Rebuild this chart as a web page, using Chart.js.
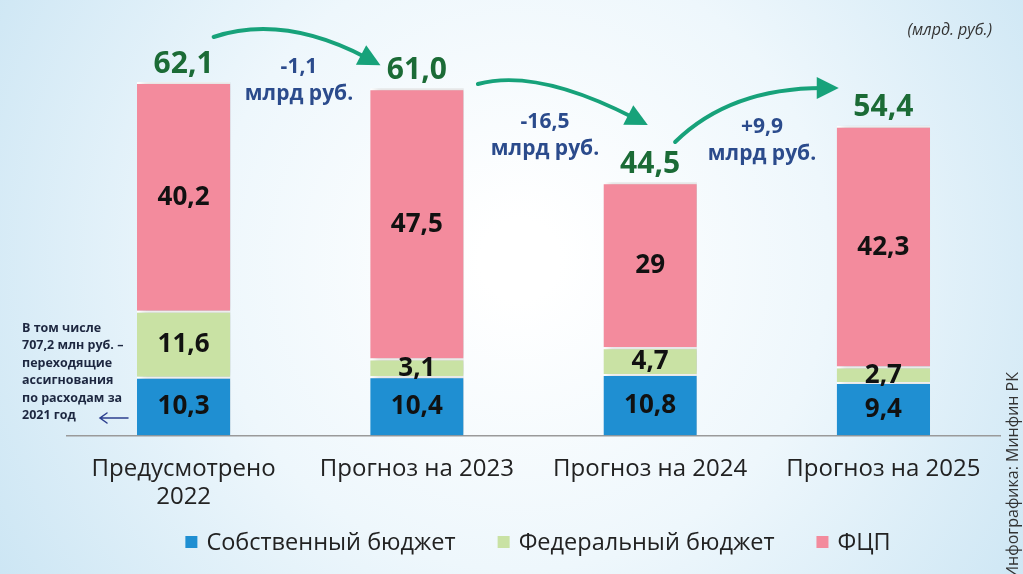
<!DOCTYPE html>
<html lang="ru">
<head>
  <meta charset="UTF-8" />
  <title>Бюджет</title>
  <script src="https://cdn.jsdelivr.net/npm/chart.js"></script>
  <style>
    * { margin: 0; padding: 0; box-sizing: border-box; }
    body { width: 1023px; height: 574px; overflow: hidden; background: #fff; }
    .wrap { position: relative; width: 1023px; height: 574px; }
  </style>
</head>
<body>
  <div class="wrap">
    <canvas id="budgetChart" width="1023" height="574"></canvas>
  </div>

  <script>
    const categories = [['Предусмотрено', '2022'], 'Прогноз на 2023', 'Прогноз на 2024', 'Прогноз на 2025'];
    const ownBudget = [10.3, 10.4, 10.8, 9.4];
    const federalBudget = [11.6, 3.1, 4.7, 2.7];
    const fcp = [40.2, 47.5, 29, 42.3];
    const changes = ['-1,1', '-16,5', '+9,9'];
    const FONT = "'Open Sans', 'Noto Sans', sans-serif";

    function fmt(v) {
      return String(v).replace('.', ',');
    }

    // background, shadows, labels, arrows, legend and notes
    const decor = {
      id: 'decor',
      beforeDraw(chart) {
        const c = chart.ctx;
        const g = c.createRadialGradient(520, 260, 40, 520, 260, 640);
        g.addColorStop(0, '#ffffff');
        g.addColorStop(0.45, '#eef7fc');
        g.addColorStop(1, '#c9e4f3');
        c.save();
        c.fillStyle = g;
        c.fillRect(0, 0, chart.width, chart.height);
        c.restore();
      },
      beforeDatasetsDraw(chart) {
        const c = chart.ctx;
        c.save();
        c.shadowColor = 'rgba(0,0,0,0.22)';
        c.shadowOffsetX = 5;
        c.shadowBlur = 6;
      },
      afterDatasetsDraw(chart) {
        const c = chart.ctx;
        c.restore();
        const y = chart.scales.y;
        const x = chart.scales.x;

        // segment values
        c.save();
        c.textAlign = 'center';
        c.textBaseline = 'middle';
        c.fillStyle = '#111';
        c.font = 'bold 26px ' + FONT;
        chart.data.datasets.forEach((ds, di) => {
          chart.getDatasetMeta(di).data.forEach((bar, i) => {
            const mid = (bar.y + bar.base) / 2;
            c.fillText(fmt(ds.data[i]), bar.x, mid + 1);
          });
        });

        // totals
        c.fillStyle = '#1b6b36';
        c.font = 'bold 30px ' + FONT;
        const centers = [];
        categories.forEach((cat, i) => {
          const total = ownBudget[i] + federalBudget[i] + fcp[i];
          const cx = x.getPixelForValue(i);
          const ty = y.getPixelForValue(total);
          centers.push(cx);
          c.fillText(total.toFixed(1).replace('.', ','), cx, ty - 18);
        });

        // arrows between bars
        const arrows = [
          [centers[0] + 30, 37, centers[0] + 100, 14, centers[1] - 50, 58],
          [centers[1] + 61, 84, centers[1] + 120, 68, centers[2] - 16, 118],
          [centers[2] + 25, 142, centers[2] + 80, 88, centers[3] - 60, 88]
        ];
        c.strokeStyle = '#17a27a';
        c.fillStyle = '#17a27a';
        c.lineWidth = 4;
        c.lineCap = 'round';
        arrows.forEach(a => {
          const [sx, sy, qx, qy, ex, ey] = a;
          c.beginPath();
          c.moveTo(sx, sy);
          c.quadraticCurveTo(qx, qy, ex, ey);
          c.stroke();
          const ang = Math.atan2(ey - qy, ex - qx);
          const len = 22, w = 11;
          const tx = ex + Math.cos(ang) * len * 0.7;
          const tyy = ey + Math.sin(ang) * len * 0.7;
          c.beginPath();
          c.moveTo(tx, tyy);
          c.lineTo(tx - Math.cos(ang) * len + Math.sin(ang) * w, tyy - Math.sin(ang) * len - Math.cos(ang) * w);
          c.lineTo(tx - Math.cos(ang) * len - Math.sin(ang) * w, tyy - Math.sin(ang) * len + Math.cos(ang) * w);
          c.closePath();
          c.fill();
        });

        // change labels
        const labelPos = [[299, 67], [545, 122], [762, 127]];
        c.fillStyle = '#2b4b8c';
        c.font = 'bold 21px ' + FONT;
        changes.forEach((t, i) => {
          const [lx, ly] = labelPos[i];
          c.fillText(t, lx, ly);
          c.fillText('млрд руб.', lx, ly + 27);
        });

        // units
        c.fillStyle = '#333';
        c.font = 'italic 16px ' + FONT;
        c.textAlign = 'right';
        c.fillText('(млрд. руб.)', 992, 30);

        // note on the left
        c.textAlign = 'left';
        c.fillStyle = '#1d2740';
        c.font = 'bold 12.5px ' + FONT;
        const note = ['В том числе', '707,2 млн руб. –', 'переходящие', 'ассигнования', 'по расходам за', '2021 год'];
        note.forEach((t, i) => c.fillText(t, 22, 328 + i * 17.5));
        c.strokeStyle = '#2c3f8f';
        c.lineWidth = 1.5;
        c.beginPath();
        c.moveTo(128, 418);
        c.lineTo(100, 418);
        c.moveTo(107, 413);
        c.lineTo(100, 418);
        c.lineTo(107, 423);
        c.stroke();

        // legend
        c.font = '23.5px ' + FONT;
        c.fillStyle = '#222';
        const items = chart.data.datasets.map(ds => ({ text: ds.label, color: ds.backgroundColor }));
        const box = 12, gapBox = 9, gapItem = 42, ly = 542;
        const widths = items.map(it => box + gapBox + c.measureText(it.text).width);
        const total = widths.reduce((s, w) => s + w, 0) + gapItem * (items.length - 1);
        let lx = 538 - total / 2;
        items.forEach((it, i) => {
          c.fillStyle = it.color;
          c.fillRect(lx, ly - box / 2, box, box);
          c.fillStyle = '#222';
          c.fillText(it.text, lx + box + gapBox, ly + 1);
          lx += widths[i] + gapItem;
        });

        // source, rotated
        c.translate(1013, 372);
        c.rotate(-Math.PI / 2);
        c.textAlign = 'right';
        c.fillStyle = '#333';
        c.font = '16px ' + FONT;
        c.fillText('Инфографика: Минфин РК', 0, 0);
        c.restore();
      }
    };

    const ctx = document.getElementById('budgetChart').getContext('2d');

    new Chart(ctx, {
      type: 'bar',
      data: {
        labels: categories,
        datasets: [
          { label: 'Собственный бюджет', data: ownBudget, backgroundColor: '#1f8fd2' },
          { label: 'Федеральный бюджет', data: federalBudget, backgroundColor: '#c9e2a4' },
          { label: 'ФЦП', data: fcp, backgroundColor: '#f38b9d' }
        ].map(d => Object.assign(d, {
          borderColor: '#ffffff',
          borderWidth: { top: 2 },
          borderSkipped: 'bottom',
          barPercentage: 0.4,
          categoryPercentage: 1
        }))
      },
      options: {
        responsive: false,
        animation: false,
        layout: { padding: { left: 67, right: 23, top: 37, bottom: 51 } },
        plugins: {
          tooltip: { enabled: false },
          legend: { display: false }
        },
        scales: {
          x: {
            stacked: true,
            grid: { display: false },
            border: { color: '#9a9a9a', width: 1.5 },
            ticks: {
              color: '#222',
              padding: 11,
              font: { family: FONT, size: 24, lineHeight: 1.2 },
              maxRotation: 0
            }
          },
          y: {
            stacked: true,
            display: false,
            min: 0,
            max: 70
          }
        }
      },
      plugins: [decor]
    });
  </script>
</body>
</html>
